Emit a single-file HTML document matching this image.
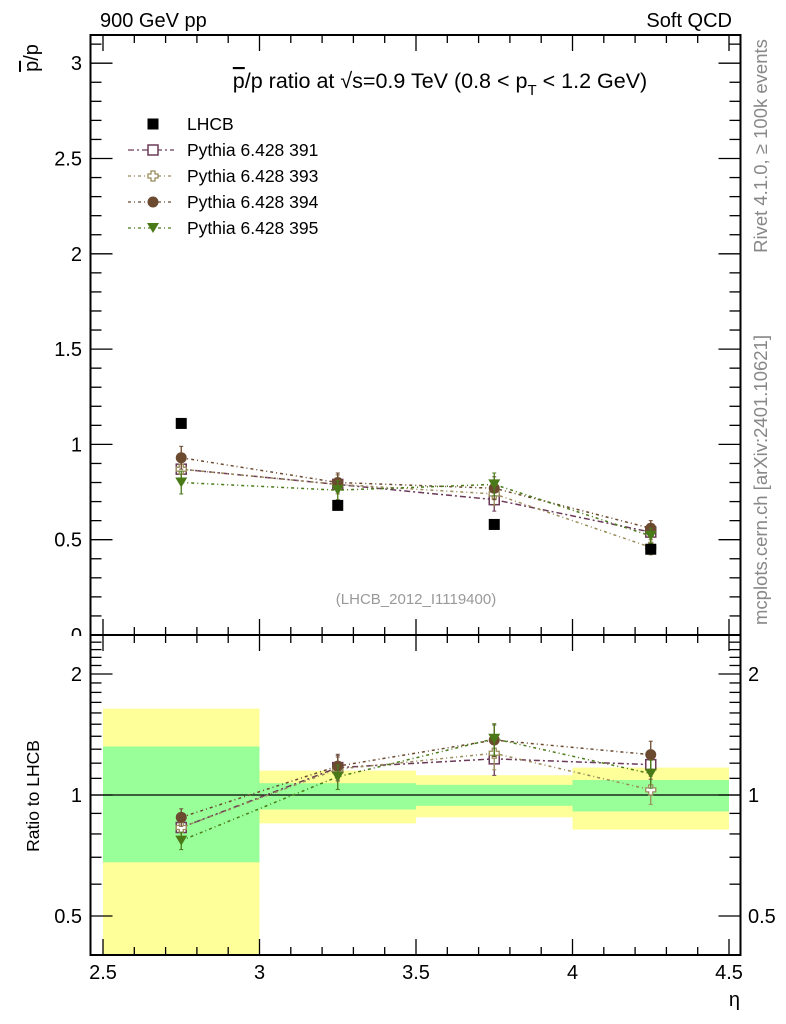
<!DOCTYPE html>
<html><head><meta charset="utf-8"><style>
html,body{margin:0;padding:0;background:#fff}
svg{display:block;font-family:"Liberation Sans",Arial,sans-serif}
</style></head><body>
<svg id="c" width="786" height="1024" viewBox="0 0 786 1024" xmlns="http://www.w3.org/2000/svg">
<g id="bands"></g>
<g id="axes"></g>
<g id="series"></g>
<text x="100" y="27" font-size="20">900 GeV pp</text>
<text x="732" y="27" font-size="20" text-anchor="end">Soft QCD</text>
<text x="440" y="88" font-size="21.5" text-anchor="middle"><tspan text-decoration="overline">p</tspan>/p ratio at √s=0.9 TeV (0.8 &lt; p<tspan font-size="15" dy="7">T</tspan><tspan dy="-7"> &lt; 1.2 GeV)</tspan></text>
<text transform="translate(38,58) rotate(-90)" font-size="20" text-anchor="middle"><tspan text-decoration="overline">p</tspan>/p</text>
<text transform="translate(39,796) rotate(-90)" font-size="17.5" text-anchor="middle">Ratio to LHCB</text>
<text x="740" y="1006" font-size="20" text-anchor="end">η</text>
<text transform="translate(767,146) rotate(-90)" font-size="18.5" fill="#888" text-anchor="middle">Rivet 4.1.0, ≥ 100k events</text>
<text transform="translate(767,480) rotate(-90)" font-size="18.5" fill="#888" text-anchor="middle">mcplots.cern.ch [arXiv:2401.10621]</text>
<text x="416" y="604" font-size="15" fill="#999" text-anchor="middle">(LHCB_2012_I1119400)</text>
<g id="legend"></g>
</svg>
<script>
const xCenters=[2.75,3.25,3.75,4.25];
const binEdges=[2.5,3,3.5,4,4.5];
const dataVals=[1.11,0.68,0.58,0.45];
const s391=[0.87,0.79,0.71,0.54];
const s393=[0.87,0.79,0.74,0.46];
const s394=[0.93,0.80,0.77,0.56];
const s395=[0.80,0.76,0.79,0.52];
const r391=[0.83,1.17,1.23,1.19];
const r393=[0.83,1.16,1.27,1.03];
const r394=[0.88,1.18,1.37,1.26];
const r395=[0.77,1.11,1.38,1.13];
const err=[0.06,0.05,0.06,0.04];
const rerr=[0.05,0.07,0.09,0.08];
const yellowHi=[1.64,1.15,1.12,1.17];
const yellowLo=[0.3,0.85,0.88,0.82];
const greenHi=[1.32,1.07,1.06,1.09];
const greenLo=[0.68,0.92,0.94,0.91];
const mainTicks=[0,0.5,1,1.5,2,2.5,3];
const mainTickLabels=["0","0.5","1","1.5","2","2.5","3"];
const xTicks=[2.5,3,3.5,4,4.5];
const xTickLabels=["2.5","3","3.5","4","4.5"];
const ratioTicks=[0.5,1,2];
const ratioTickLabels=["0.5","1","2"];

const NS="http://www.w3.org/2000/svg";
const L=90.5,R=740.5,T=35,MB=635,RB=955;
const X=v=>103+(v-2.5)*313;
const Y=v=>635-v*190.6;
const YR=v=>795-Math.log2(v)*121;
function mk(p,tag,at){const e=document.createElementNS(NS,tag);for(const k in at)e.setAttribute(k,at[k]);p.appendChild(e);return e;}
const axes=document.getElementById('axes'),bands=document.getElementById('bands'),ser=document.getElementById('series'),leg=document.getElementById('legend');

for(let i=0;i<4;i++){
  const x0=X(binEdges[i]),x1=X(binEdges[i+1]);
  const yt=Math.max(YR(yellowHi[i]),T),yb=Math.min(YR(yellowLo[i]),RB);
  let e=mk(bands,'rect',{x:x0,y:yt,width:x1-x0,height:yb-yt,fill:'#ffff99'});
  
  
  const gt=YR(greenHi[i]),gb=YR(greenLo[i]);
  e=mk(bands,'rect',{x:x0,y:gt,width:x1-x0,height:gb-gt,fill:'#99ff99'});
  
  
}
mk(axes,'line',{x1:L,x2:R,y1:YR(1),y2:YR(1),stroke:'#000','stroke-width':1.2});
mk(axes,'rect',{x:L,y:T,width:R-L,height:MB-T,fill:'none',stroke:'#000','stroke-width':2});
mk(axes,'rect',{x:L,y:MB,width:R-L,height:RB-MB,fill:'none',stroke:'#000','stroke-width':2});
for(let v=2.5;v<=4.501;v+=0.05){
  const maj=Math.abs(v*2-Math.round(v*2))<1e-6, mid=Math.abs(v*10-Math.round(v*10))<1e-6;
  const len=maj?16:(mid?8:0); if(!len)continue;
  const x=X(v);
  [[T,1],[MB,-1],[MB,1],[RB,-1]].forEach(([y,d])=>mk(axes,'line',{x1:x,x2:x,y1:y,y2:y+d*len,stroke:'#000','stroke-width':1.3}));
}
xTicks.forEach((v,i)=>{const t=mk(axes,'text',{x:X(v),y:979,'font-size':20,'text-anchor':'middle'});t.textContent=xTickLabels[i];});
for(let v=0;v<=3.15;v+=0.1){
  const maj=Math.abs(v*2-Math.round(v*2))<1e-6, y=Y(v);
  const len=maj?22:11;
  mk(axes,'line',{x1:L,x2:L+len,y1:y,y2:y,stroke:'#000','stroke-width':1.3});
  mk(axes,'line',{x1:R,x2:R-len,y1:y,y2:y,stroke:'#000','stroke-width':1.3});
}
mainTicks.forEach((v,i)=>{const t=mk(axes,'text',{x:82,y:Y(v)+7,'font-size':20,'text-anchor':'end'});t.textContent=mainTickLabels[i];});
const minor=[0.4,0.5,0.6,0.7,0.8,0.9,1,2,1.1,1.2,1.3,1.4,1.5,1.6,1.7,1.8,1.9,2.1,2.2,2.3,2.4];
minor.forEach(v=>{const y=YR(v);const maj=(v==0.5||v==1||v==2);const len=maj?22:11;
  mk(axes,'line',{x1:L,x2:L+len,y1:y,y2:y,stroke:'#000','stroke-width':1.3});
  mk(axes,'line',{x1:R,x2:R-len,y1:y,y2:y,stroke:'#000','stroke-width':1.3});});
ratioTicks.forEach((v,i)=>{
  let t=mk(axes,'text',{x:82,y:YR(v)+7,'font-size':20,'text-anchor':'end'});t.textContent=ratioTickLabels[i];
  t=mk(axes,'text',{x:748,y:YR(v)+7,'font-size':20});t.textContent=ratioTickLabels[i];});
// white cover to hide the main-panel "0" label partially like the reference
mk(axes,'rect',{x:60,y:636,width:28,height:12,fill:'#fff'});

const series=[
 {n:'391',v:s391,r:r391,c:'#6b3a58',m:'sq',dash:'6,3,2,3'},
 {n:'393',v:s393,r:r393,c:'#9a8c5a',m:'cross',dash:'3,3,1,3'},
 {n:'394',v:s394,r:r394,c:'#6b4a30',m:'circ',dash:'3,3,1,3'},
 {n:'395',v:s395,r:r395,c:'#4a7a18',m:'tri',dash:'3,3,1,3'}];
function marker(g,m,x,y,c){
  if(m=='sq')mk(g,'rect',{x:x-5,y:y-5,width:10,height:10,fill:'#fff',stroke:c,'stroke-width':1.5});
  else if(m=='cross')mk(g,'path',{d:`M${x-2} ${y-5}h4v3h3v4h-3v3h-4v-3h-3v-4h3z`,fill:'#fff',stroke:c,'stroke-width':1.3});
  else if(m=='circ')mk(g,'circle',{cx:x,cy:y,r:5.5,fill:c});
  else if(m=='tri')mk(g,'path',{d:`M${x-6} ${y-5}h12l-6 10z`,fill:c});
  else mk(g,'rect',{x:x-5.5,y:y-5.5,width:11,height:11,fill:'#000'});
}
series.forEach(s=>{
  [[s.v,Y,err],[s.r,YR,rerr]].forEach(([vals,f,er],k)=>{
    const g=mk(ser,'g',{});
    
    
    mk(g,'polyline',{points:xCenters.map((x,i)=>X(x)+','+f(vals[i])).join(' '),fill:'none',stroke:s.c,'stroke-width':1.5,'stroke-dasharray':s.dash});
    xCenters.forEach((x,i)=>{
      const y1=k?YR(vals[i]*(1+er[i])):Y(vals[i]+er[i]),y2=k?YR(vals[i]*(1-er[i])):Y(vals[i]-er[i]);
      mk(g,'line',{x1:X(x),x2:X(x),y1:y1,y2:y2,stroke:s.c,'stroke-width':1.3});
      mk(g,'line',{x1:X(x)-2,x2:X(x)+2,y1:y1,y2:y1,stroke:s.c});
      mk(g,'line',{x1:X(x)-2,x2:X(x)+2,y1:y2,y2:y2,stroke:s.c});
      marker(g,s.m,X(x),f(vals[i]),s.c);
    });
  });
});
const dg=mk(ser,'g',{});


xCenters.forEach((x,i)=>marker(dg,'data',X(x),Y(dataVals[i]),'#000'));

const legItems=[['LHCB','#000','data',null]].concat(series.map(s=>['Pythia 6.428 '+s.n,s.c,s.m,s.dash]));
legItems.forEach((it,i)=>{
  const y=124+i*26;
  const g=mk(leg,'g',{});
  
  
  if(it[3])mk(g,'line',{x1:128,x2:174,y1:y,y2:y,stroke:it[1],'stroke-width':1.3,'stroke-dasharray':it[3]});
  marker(g,it[2],153,y,it[1]);
  const t=mk(g,'text',{x:187,y:y+6,'font-size':17.5});t.textContent=it[0];
});
</script>
</body></html>
